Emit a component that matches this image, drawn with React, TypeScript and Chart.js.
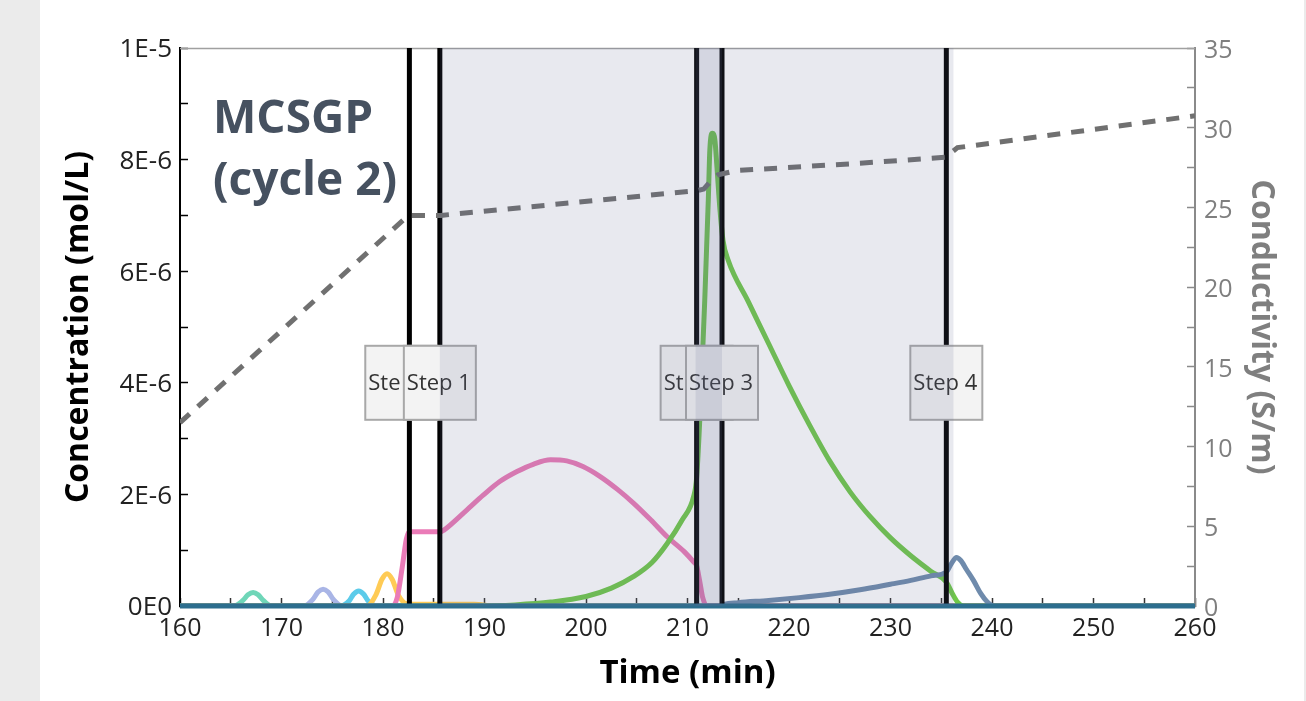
import React, { useEffect, useRef } from "react";
import { Chart, registerables } from "chart.js";

Chart.register(...registerables);

// ---------- data ----------
const timeMin = 160;
const timeMax = 260;
const concTickLabels = ["0E0", "2E-6", "4E-6", "6E-6", "8E-6", "1E-5"]; // every 2E-6
const condTickLabels = ["0", "5", "10", "15", "20", "25", "30", "35"]; // every 5 S/m

const stepTimes = [182.6, 185.6, 210.9, 213.4, 235.5];
const stepLabelTimes = [181.8, 185.6, 210.9, 213.4, 235.5];
const stepLabels = ["Ste", "Step 1", "St", "Step 3", "Step 4"];
const stepLabelLevel = 4; // in 1E-6 mol/L
const shadedStarts = [185.6, 210.8];
const shadedEnds = [213.4, 236.2];

// concentrations in 1E-6 mol/L
const mintT = [160, 165.3, 166.2, 166.7, 167.2, 167.7, 168.2, 169.0, 260];
const mintC = [0, 0, 0.1, 0.2, 0.24, 0.2, 0.1, 0, 0];

const lavenderT = [160, 172.2, 173.1, 173.6, 174.1, 174.6, 175.1, 176.0, 260];
const lavenderC = [0, 0, 0.12, 0.25, 0.3, 0.25, 0.12, 0, 0];

const cyanT = [160, 175.8, 176.7, 177.1, 177.6, 178.1, 178.5, 179.4, 260];
const cyanC = [0, 0, 0.1, 0.21, 0.27, 0.21, 0.1, 0, 0];

const yellowT = [160, 178.4, 179.3, 179.9, 180.4, 180.9, 181.5, 182.3, 183.0, 189.0, 191.0, 260];
const yellowC = [0, 0, 0.2, 0.48, 0.58, 0.48, 0.2, 0.04, 0.03, 0.03, 0, 0];

const pinkT = [160, 180.9, 181.4, 181.9, 182.3, 182.6, 185.7, 186.0, 188.25, 189.9, 191.5, 193.2, 194.8, 196.5, 198.1, 199.7, 201.4, 203.1, 204.7, 206.4, 208.0, 209.7, 210.6, 210.9, 211.2, 211.5, 211.9, 260];
const pinkC = [0, 0, 0.15, 0.7, 1.2, 1.33, 1.33, 1.36, 1.72, 1.99, 2.23, 2.41, 2.54, 2.62, 2.6, 2.5, 2.32, 2.09, 1.84, 1.54, 1.24, 0.97, 0.79, 0.72, 0.45, 0.15, 0, 0];

const greenT = [160, 190, 193, 196.5, 200, 202.5, 204.7, 206.5, 208, 209.5, 210.6, 210.9, 211.3, 211.7, 212.05, 212.2, 212.45, 212.7, 212.9, 213.2, 213.5, 214, 216, 218, 220, 222, 224, 226, 228, 230, 232, 234, 235.5, 236.1, 236.6, 237.2, 260];
const greenC = [0, 0, 0.02, 0.07, 0.17, 0.32, 0.53, 0.78, 1.12, 1.55, 1.96, 2.3, 3.7, 5.48, 7.28, 8.17, 8.47, 8.35, 7.87, 7.1, 6.55, 6.2, 5.45, 4.7, 3.95, 3.25, 2.6, 2.05, 1.6, 1.22, 0.9, 0.62, 0.43, 0.22, 0.07, 0, 0];

const slateT = [160, 213.2, 213.6, 215, 218, 221, 224, 227, 230, 232, 234, 235.5, 236.0, 236.5, 236.9, 237.5, 238.2, 238.9, 239.5, 240.2, 260];
const slateC = [0, 0, 0.03, 0.06, 0.1, 0.15, 0.21, 0.29, 0.39, 0.46, 0.54, 0.61, 0.76, 0.87, 0.82, 0.65, 0.45, 0.22, 0.08, 0, 0];

const baselineT = [160, 260];
const baselineC = [0, 0];

// conductivity in S/m
const condT = [160, 182.5, 185.7, 210.9, 211.6, 212.45, 213.0, 214.8, 227, 235.5, 236.0, 236.6, 260];
const condC = [11.5, 24.5, 24.5, 26.05, 26.15, 26.77, 27.04, 27.31, 27.77, 28.15, 28.45, 28.75, 30.75];

// ---------- helpers ----------
const pts = (t: number[], v: number[]) => t.map((x, i) => ({ x, y: v[i] }));

const FONT = "'Open Sans', 'DejaVu Sans', sans-serif";

const overlayPlugin = {
  id: "overlay",
  beforeDatasetsDraw(chart: any) {
    const { ctx, chartArea: ca } = chart;
    ctx.save();
    ctx.strokeStyle = "#a0a0a0";
    ctx.lineWidth = 1.5;
    ctx.beginPath();
    ctx.moveTo(ca.left, ca.top + 0.5);
    ctx.lineTo(ca.right, ca.top + 0.5);
    ctx.stroke();
    ctx.fillStyle = "#465160";
    ctx.font = `bold 46px ${FONT}`;
    ctx.textAlign = "left";
    ctx.textBaseline = "alphabetic";
    ctx.fillText("MCSGP", ca.left + 33, ca.top + 85);
    ctx.fillText("(cycle 2)", ca.left + 33, ca.top + 147);
    ctx.restore();
  },
  afterDatasetsDraw(chart: any) {
    const { ctx, chartArea: ca } = chart;
    const xs = chart.scales.x;
    const ys = chart.scales.y;
    ctx.save();
    // step label boxes
    const bw = 72;
    const bh = 74;
    for (let i = 0; i < stepLabels.length; i++) {
      const cx = xs.getPixelForValue(stepLabelTimes[i]);
      const cy = ys.getPixelForValue(stepLabelLevel);
      const l = cx - bw / 2;
      const t = cy - bh / 2;
      ctx.fillStyle = "#f3f3f3";
      ctx.fillRect(l, t, bw, bh);
      ctx.strokeStyle = "#a8a8a8";
      ctx.lineWidth = 2;
      ctx.strokeRect(l, t, bw, bh);
      ctx.fillStyle = "#333333";
      ctx.font = `22px ${FONT}`;
      ctx.textAlign = "left";
      ctx.textBaseline = "middle";
      ctx.fillText(stepLabels[i], l + 3, cy + 1);
    }
    // shaded step regions
    ctx.beginPath();
    ctx.rect(ca.left, ca.top, ca.right - ca.left, ca.bottom - ca.top);
    ctx.clip();
    ctx.fillStyle = "rgba(100,110,150,0.15)";
    for (let i = 0; i < shadedStarts.length; i++) {
      const x0 = xs.getPixelForValue(shadedStarts[i]);
      const x1 = xs.getPixelForValue(shadedEnds[i]);
      ctx.fillRect(x0, ca.top, x1 - x0, ca.bottom - ca.top);
    }
    ctx.restore();
  },
};

export default function App() {
  const ref = useRef<HTMLCanvasElement | null>(null);

  useEffect(() => {
    if (!ref.current) return;
    const curve = (label: string, t: number[], c: number[], color: string, order: number) => ({
      label,
      data: pts(t, c),
      yAxisID: "y",
      borderColor: color,
      backgroundColor: color,
      borderWidth: 5,
      pointRadius: 0,
      fill: false,
      cubicInterpolationMode: "monotone" as const,
      order,
    });
    const stepLineSets = stepTimes.map((t) => ({
      label: "step",
      data: [
        { x: t, y: 0 },
        { x: t, y: 10 },
      ],
      yAxisID: "y",
      borderColor: "#000000",
      borderWidth: 5,
      pointRadius: 0,
      fill: false,
      order: 2,
    }));

    const chart = new Chart(ref.current, {
      type: "line",
      data: {
        datasets: [
          {
            label: "Conductivity",
            data: pts(condT, condC),
            yAxisID: "y2",
            borderColor: "#707070",
            borderWidth: 5,
            borderDash: [13, 11],
            pointRadius: 0,
            fill: false,
            tension: 0,
            order: 0,
          },
          { ...curve("Baseline", baselineT, baselineC, "#2c6e8e", 1), clip: false },
          ...stepLineSets,
          curve("Weak 1", mintT, mintC, "#6fd6b8", 9),
          curve("Weak 2", lavenderT, lavenderC, "#a9b5e6", 8),
          curve("Weak 3", cyanT, cyanC, "#5ccbea", 7),
          curve("Weak 4", yellowT, yellowC, "#ffcb55", 6),
          curve("Product", pinkT, pinkC, "#ea7bb7", 5),
          curve("Strong 1", greenT, greenC, "#70c84a", 4),
          curve("Strong 2", slateT, slateC, "#6f8bac", 3),
        ] as any,
      },
      options: {
        animation: false,
        responsive: false,
        maintainAspectRatio: false,
        devicePixelRatio: 1,
        layout: { padding: { top: 48, left: 0, right: 0, bottom: 0 } },
        plugins: { legend: { display: false }, tooltip: { enabled: false } },
        scales: {
          x: {
            type: "linear",
            position: "bottom",
            min: timeMin,
            max: timeMax,
            afterFit: (s: any) => {
              s.height = 95;
            },
            ticks: {
              stepSize: 5,
              autoSkip: false,
              maxRotation: 0,
              padding: 16,
              color: "#222222",
              font: { family: FONT, size: 25 },
              callback: (v: any) => (Number(v) % 10 === 0 ? String(v) : ""),
            },
            grid: { drawOnChartArea: false, tickLength: -8, color: "#333333", tickWidth: 1.5 },
            border: { display: true, color: "#000000", width: 2 },
            title: {
              display: true,
              text: "Time (min)",
              color: "#000000",
              font: { family: FONT, size: 33, weight: "bold" },
              padding: { top: 0, bottom: 8 },
            },
          },
          y: {
            type: "linear",
            position: "left",
            min: 0,
            max: 10,
            afterFit: (s: any) => {
              s.width = 140;
            },
            ticks: {
              stepSize: 1,
              autoSkip: false,
              padding: 16,
              labelOffset: 2,
              color: "#222222",
              font: { family: FONT, size: 26 },
              callback: (v: any) => (Number(v) % 2 === 0 ? concTickLabels[Number(v) / 2] : ""),
            },
            grid: { drawOnChartArea: false, tickLength: -8, color: "#000000", tickWidth: 1.5 },
            border: { display: true, color: "#000000", width: 2 },
            title: {
              display: true,
              text: "Concentration (mol/L)",
              color: "#000000",
              font: { family: FONT, size: 32, weight: "bold" },
              padding: { top: 20, bottom: 0 },
            },
          },
          y2: {
            type: "linear",
            position: "right",
            min: 0,
            max: 35,
            afterFit: (s: any) => {
              s.width = 109;
            },
            ticks: {
              stepSize: 2.5,
              autoSkip: false,
              padding: 17,
              labelOffset: 3,
              color: "#7f7f7f",
              font: { family: FONT, size: 25 },
              callback: (v: any) => (Number(v) % 5 === 0 ? condTickLabels[Number(v) / 5] : ""),
            },
            grid: { drawOnChartArea: false, tickLength: -8, color: "#8a8a8a", tickWidth: 1.5 },
            border: { display: true, color: "#8a8a8a", width: 2 },
            title: {
              display: true,
              text: "Conductivity (S/m)",
              color: "#7f7f7f",
              font: { family: FONT, size: 32, weight: "bold" },
              padding: { top: 24, bottom: 0 },
            },
          },
        },
      } as any,
      plugins: [overlayPlugin],
    });
    return () => chart.destroy();
  }, []);

  return (
    <div
      style={{
        position: "fixed",
        left: 0,
        top: 0,
        width: 1306,
        height: 701,
        background: "#ebebeb",
        overflow: "hidden",
      }}
    >
      <div style={{ position: "absolute", left: 40, top: 0, width: 1264, height: 701, background: "#ffffff" }}>
        <canvas ref={ref} width={1264} height={701} style={{ width: 1264, height: 701, display: "block" }} />
      </div>
    </div>
  );
}
